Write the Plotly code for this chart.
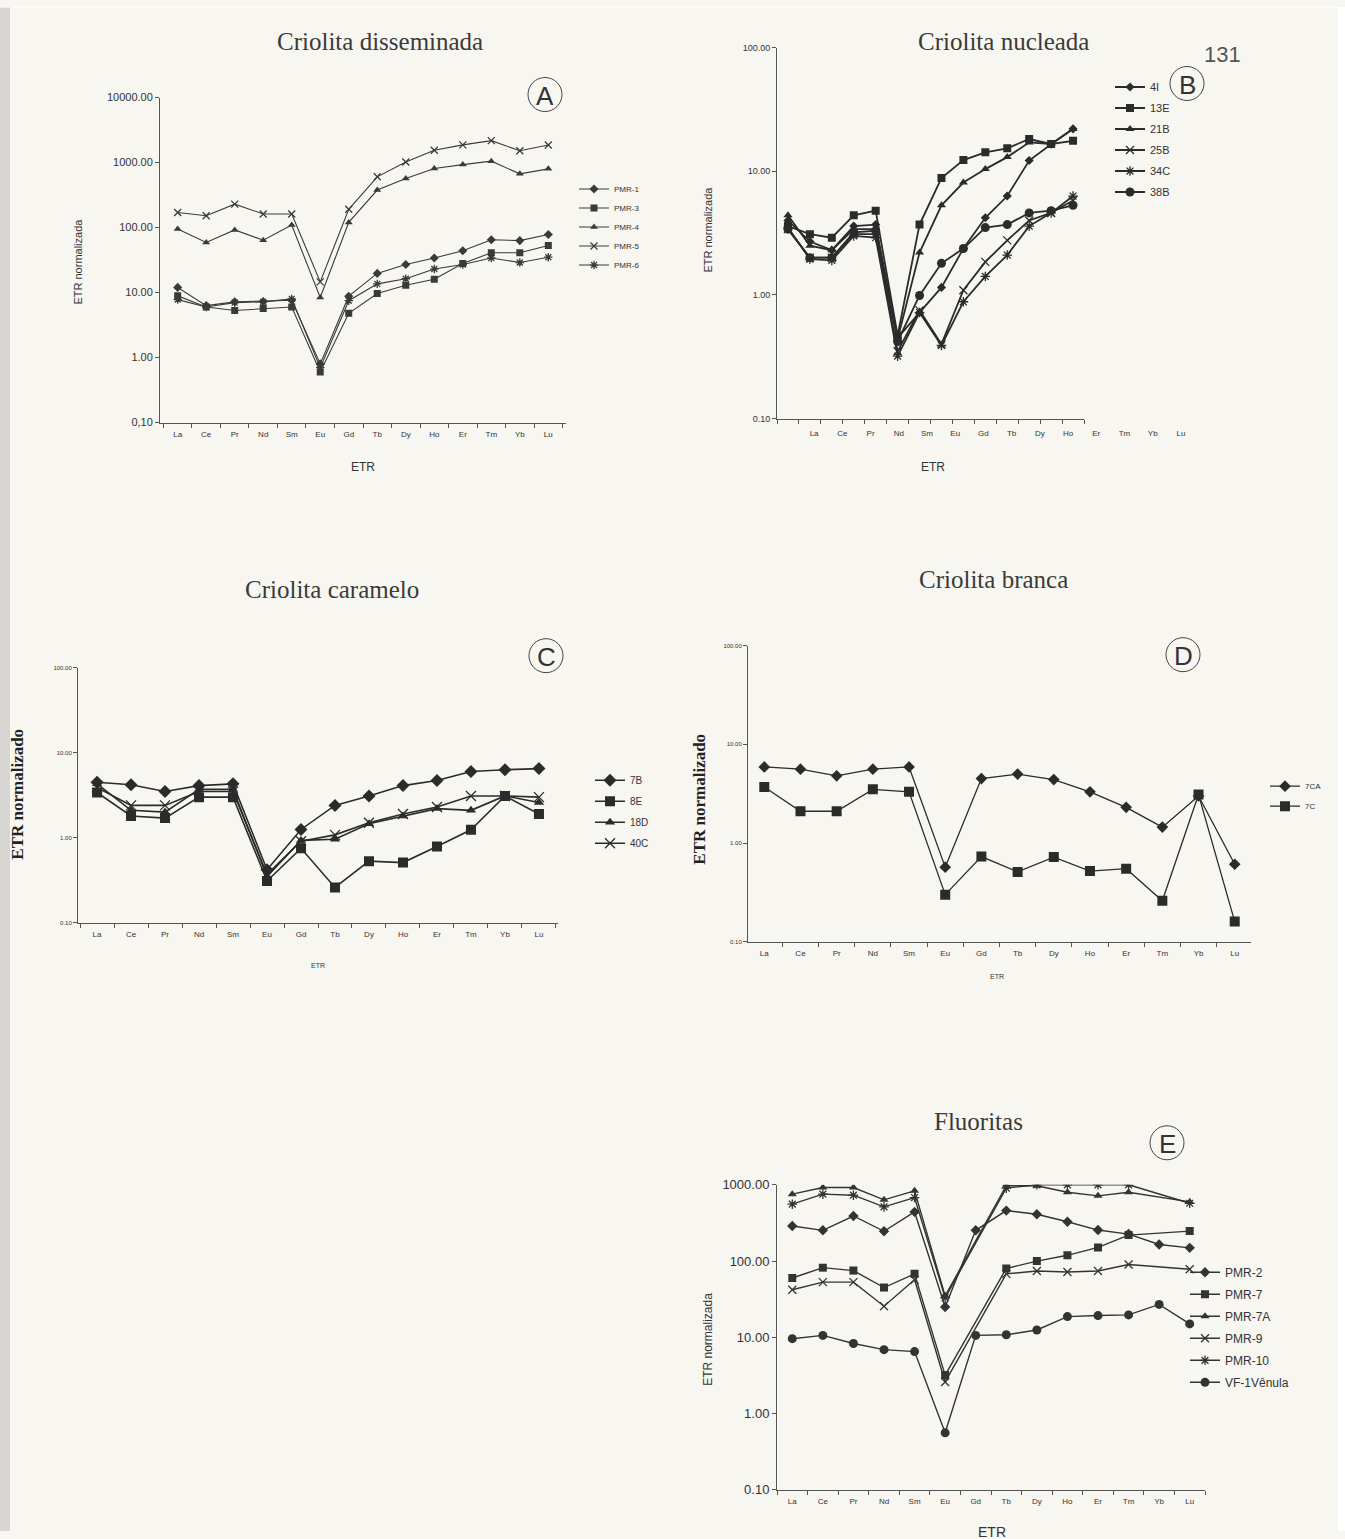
import plotly.graph_objects as go

W, H = 1345, 1539
def X(p): return p / W
def Y(p): return 1 - ((p - 7.5) / 0.99) / H

REE = ["La", "Ce", "Pr", "Nd", "Sm", "Eu", "Gd", "Tb", "Dy", "Ho", "Er", "Tm", "Yb", "Lu"]

# Panel A - Criolita disseminada
A_names = ["PMR-1", "PMR-3", "PMR-4", "PMR-5", "PMR-6"]
A_pmr1 = [12, 6.3, 7.2, 7.3, 7.6, 0.8, 8.8, 19.7, 27, 34, 44, 65, 63, 78]
A_pmr3 = [8.9, 6.0, 5.3, 5.7, 6.0, 0.6, 4.8, 9.7, 13, 16, 28, 41, 41, 53]
A_pmr4 = [95, 59, 92, 64, 109, 8.4, 120, 378, 570, 810, 930, 1050, 670, 800]
A_pmr5 = [170, 152, 229, 162, 162, 14.6, 191, 603, 1020, 1545, 1870, 2170, 1520, 1860]
A_pmr6 = [7.8, 6.0, 7.0, 7.2, 8.0, 0.7, 7.5, 13.6, 16.3, 23, 27, 34, 29, 35]
A_yvals = [0.1, 1, 10, 100, 1000, 10000]
A_yticks = ["0,10", "1.00", "10.00", "100.00", "1000.00", "10000.00"]

# Panel B - Criolita nucleada
B_names = ["4I", "13E", "21B", "25B", "34C", "38B"]
B_4i = [4.0, 2.7, 2.3, 3.6, 3.7, 0.45, 0.72, 1.15, 2.37, 4.2, 6.3, 12.2, 16.5, 22.0]
B_13e = [3.6, 3.1, 2.9, 4.4, 4.8, 0.47, 3.7, 8.8, 12.3, 14.2, 15.3, 18.2, 16.6, 17.6]
B_21b = [4.4, 2.5, 2.3, 3.4, 3.4, 0.44, 2.2, 5.3, 8.1, 10.4, 13.0, 17.1, 16.6, 21.9]
B_25b = [3.4, 2.0, 2.0, 3.1, 3.1, 0.35, 0.75, 0.40, 1.09, 1.85, 2.76, 4.0, 4.6, 5.8]
B_34c = [3.5, 1.95, 1.9, 3.0, 2.9, 0.32, 0.72, 0.39, 0.88, 1.41, 2.1, 3.6, 4.6, 6.3]
B_38b = [3.4, 2.0, 2.0, 3.2, 3.3, 0.42, 0.99, 1.8, 2.37, 3.5, 3.7, 4.6, 4.8, 5.3]
B_yvals = [0.1, 1, 10, 100]
B_yticks = ["0.10", "1.00", "10.00", "100.00"]

# Panel C - Criolita caramelo
C_names = ["7B", "8E", "18D", "40C"]
C_7b = [4.5, 4.2, 3.5, 4.1, 4.3, 0.42, 1.25, 2.4, 3.1, 4.1, 4.7, 6.0, 6.3, 6.5]
C_8e = [3.4, 1.8, 1.7, 3.0, 3.0, 0.31, 0.75, 0.26, 0.53, 0.51, 0.79, 1.24, 3.1, 1.9]
C_18d = [4.3, 2.1, 2.0, 3.7, 3.7, 0.35, 0.93, 0.96, 1.46, 1.8, 2.2, 2.1, 3.1, 2.6]
C_40c = [3.9, 2.4, 2.4, 3.5, 3.5, 0.37, 0.91, 1.08, 1.5, 1.9, 2.3, 3.1, 3.1, 3.0]
C_yticks = ["0.10", "1.00", "10.00", "100.00"]

# Panel D - Criolita branca
D_names = ["7CA", "7C"]
D_7ca = [5.9, 5.6, 4.8, 5.6, 5.9, 0.57, 4.5, 5.0, 4.4, 3.3, 2.3, 1.45, 3.0, 0.61]
D_7c = [3.7, 2.1, 2.1, 3.5, 3.3, 0.30, 0.73, 0.51, 0.72, 0.52, 0.55, 0.26, 3.1, 0.16]
D_yticks = ["0.10", "1.00", "10.00", "100.00"]

# Panel E - Fluoritas
E_names = ["PMR-2", "PMR-7", "PMR-7A", "PMR-9", "PMR-10", "VF-1Vênula"]
E_pmr2 = [288, 253, 390, 246, 441, 25, 253, 459, 411, 328, 255, 226, 165, 149]
E_pmr7 = [60, 82, 75, 45, 68, 3.2, None, 80, 100, 119, 151, 219, None, 247]
E_pmr7a = [754, 922, 922, 635, 834, 35, None, 970, 970, 800, 716, 800, None, 597]
E_pmr9 = [42, 53, 53, 25.6, 57, 2.6, None, 68, 74, 72, 74, 90, None, 78]
E_pmr10 = [557, 754, 731, 514, 681, 33, None, 904, 1000, 1000, 1000, 1000, None, 573]
E_vf1 = [9.6, 10.6, 8.3, 6.9, 6.5, 0.56, 10.6, 10.8, 12.5, 18.7, 19.3, 19.7, 27, 15]
E_yvals = [0.1, 1, 10, 100, 1000]
E_yticks = ["0.10", "1.00", "10.00", "100.00", "1000.00"]

SANS = "Liberation Sans, Arial, sans-serif"
SERIF = "Liberation Serif, Times New Roman, serif"
INK = "#2b2b2b"
AX = "#555555"
TXT = "#333333"

fig = go.Figure()

def add(xax, yax, leg, name, vals, symbol, msize, lw, open_=False, color=INK):
    mk = dict(symbol=symbol, size=msize, color=color)
    if open_:
        mk["line"] = dict(color=color, width=1.3)
    fig.add_trace(go.Scatter(
        x=REE, y=vals, name=name, mode="lines+markers",
        xaxis=xax, yaxis=yax, legend=leg, legendgroup=leg + name,
        line=dict(color=color, width=lw), marker=mk, connectgaps=True,
        hoverinfo="skip"))

# A
symA = [("diamond", 7, False), ("square", 7, False), ("triangle-up", 7, False),
        ("x-thin-open", 7, True), ("asterisk-open", 7, True)]
for n, v, s in zip(A_names, [A_pmr1, A_pmr3, A_pmr4, A_pmr5, A_pmr6], symA):
    add("x", "y", "legend", n, v, s[0], s[1], 1.1, s[2], "#3a3a3a")

# B
symB = [("diamond", 7, False), ("square", 8, False), ("triangle-up", 8, False),
        ("x-thin-open", 8, True), ("asterisk-open", 8, True), ("circle", 9, False)]
for n, v, s in zip(B_names, [B_4i, B_13e, B_21b, B_25b, B_34c, B_38b], symB):
    add("x2", "y2", "legend2", n, v, s[0], s[1], 1.8, s[2], INK)
fig.add_trace(go.Scatter(x=[], y=[], xaxis="x6", yaxis="y2", showlegend=False))

# C
symC = [("diamond", 10, False), ("square", 10, False), ("triangle-up", 9, False),
        ("x-thin-open", 10, True)]
for n, v, s in zip(C_names, [C_7b, C_8e, C_18d, C_40c], symC):
    add("x3", "y3", "legend3", n, v, s[0], s[1], 1.6, s[2], INK)

# D
symD = [("diamond", 9, False), ("square", 10, False)]
for n, v, s in zip(D_names, [D_7ca, D_7c], symD):
    add("x4", "y4", "legend4", n, v, s[0], s[1], 1.3, s[2], INK)

# E
symE = [("diamond", 8, False), ("square", 8, False), ("triangle-up", 8, False),
        ("x-thin-open", 8, True), ("asterisk-open", 8, True), ("circle", 9, False)]
for n, v, s in zip(E_names, [E_pmr2, E_pmr7, E_pmr7a, E_pmr9, E_pmr10, E_vf1], symE):
    add("x5", "y5", "legend5", n, v, s[0], s[1], 1.4, s[2], "#333333")


def xaxis(d0, d1, rng, anchor, fs, stand=4, show=True):
    return dict(domain=[X(d0), X(d1)], type="category", categoryorder="array",
                categoryarray=REE, range=rng, anchor=anchor, showline=True,
                linecolor=AX, linewidth=1, ticks="outside", ticklen=4, tickcolor=AX,
                tickson="boundaries", showgrid=False, zeroline=False,
                showticklabels=show, ticklabelstandoff=stand,
                tickfont=dict(size=fs, family=SANS, color=TXT))


def yaxis(top, bot, rng, anchor, vals, txt, fs):
    return dict(domain=[Y(bot), Y(top)], type="log", range=rng, anchor=anchor,
                showline=True, linecolor=AX, linewidth=1, ticks="outside", ticklen=4,
                tickcolor=AX, tickvals=vals, ticktext=txt, showgrid=False,
                zeroline=False, tickfont=dict(size=fs, family=SANS, color=TXT))


lay = dict(
    width=W, height=H, margin=dict(l=0, r=0, t=0, b=0),
    paper_bgcolor="#f7f6f1", plot_bgcolor="rgba(0,0,0,0)",
    font=dict(family=SANS, color=TXT),
    xaxis=xaxis(160, 566, [-0.62, 13.62], "y", 8),
    yaxis=yaxis(98, 423, [-1, 4], "x", A_yvals, A_yticks, 11),
    xaxis2=xaxis(777, 1084, [-0.5, 13.5], "y2", 8, show=False),
    yaxis2=yaxis(48, 419, [-1, 2], "x2", B_yvals, B_yticks, 9),
    xaxis6=dict(domain=[X(800), X(1195)], type="linear", range=[-0.5, 13.5],
                anchor="y2", showline=False, ticks="", showgrid=False, zeroline=False,
                tickmode="array", tickvals=list(range(14)), ticktext=REE,
                ticklabelstandoff=8,
                tickfont=dict(size=8, family=SANS, color=TXT)),
    xaxis3=xaxis(78, 558, [-0.56, 13.56], "y3", 8),
    yaxis3=yaxis(668, 923, [-1, 2], "x3", B_yvals, C_yticks, 6),
    xaxis4=xaxis(748, 1251, [-0.45, 13.45], "y4", 8),
    yaxis4=yaxis(646, 942, [-1, 2], "x4", B_yvals, D_yticks, 6),
    xaxis5=xaxis(777, 1205, [-0.5, 13.5], "y5", 8),
    yaxis5=yaxis(1185, 1490, [-1, 3], "x5", E_yvals, E_yticks, 13),
    showlegend=True,
)

def leg(x, y, fs, gap):
    return dict(x=X(x), y=Y(y), xanchor="left", yanchor="top", bgcolor="rgba(0,0,0,0)",
                font=dict(size=fs, family=SANS, color=TXT), tracegroupgap=gap,
                itemwidth=30, traceorder="grouped")

lay["legend"] = leg(574, 175, 8, 0)
lay["legend2"] = leg(1110, 73, 11, 2)
lay["legend3"] = leg(590, 766, 10, 2)
lay["legend4"] = leg(1265, 772, 8, 1)
lay["legend5"] = leg(1185, 1258, 12, 3)
fig.update_layout(**lay)

ann = []
def text(x, y, t, size, family=SANS, angle=0, color=TXT, bold=False):
    if bold:
        t = "<b>" + t + "</b>"
    ann.append(dict(x=X(x), y=Y(y), xref="paper", yref="paper", text=t, showarrow=False,
                    font=dict(size=size, family=family, color=color), textangle=angle,
                    xanchor="center", yanchor="middle"))

text(380, 42, "Criolita disseminada", 25, SERIF, color="#3a3a3a")
text(1003, 42, "Criolita nucleada", 25, SERIF, color="#3a3a3a")
text(332, 590, "Criolita caramelo", 25, SERIF, color="#3a3a3a")
text(993, 580, "Criolita branca", 25, SERIF, color="#3a3a3a")
text(978, 1122, "Fluoritas", 25, SERIF, color="#3a3a3a")
text(1222, 55, "131", 22, SANS, color="#555555")

text(363, 467, "ETR", 12)
text(933, 467, "ETR", 12)
text(318, 966, "ETR", 7)
text(997, 977, "ETR", 7)
text(992, 1532, "ETR", 14)

text(78, 262, "ETR normalizada", 11, angle=-90)
text(708, 230, "ETR normalizada", 11, angle=-90)
text(18, 795, "ETR normalizado", 17, SERIF, angle=-90, bold=True, color="#222222")
text(700, 800, "ETR normalizado", 17, SERIF, angle=-90, bold=True, color="#222222")
text(708, 1340, "ETR normalizada", 12, angle=-90)

shapes = []
for cx, cy, letter in [(545, 95, "A"), (1187, 84, "B"), (546, 656, "C"),
                       (1183, 655, "D"), (1167, 1143, "E")]:
    r = 17
    shapes.append(dict(type="circle", xref="paper", yref="paper",
                       x0=X(cx - r), x1=X(cx + r), y0=Y(cy + r), y1=Y(cy - r),
                       line=dict(color="#444444", width=1)))
    text(cx, cy + 1, letter, 26, SANS, color="#333333")

# scan edges
shapes.append(dict(type="rect", xref="paper", yref="paper", x0=0, x1=X(10), y0=0, y1=1,
                   fillcolor="#d8d6d2", line=dict(width=0), layer="below"))
shapes.append(dict(type="rect", xref="paper", yref="paper", x0=0, x1=1, y0=Y(8), y1=1,
                   fillcolor="#ffffff", line=dict(width=0), layer="below"))
shapes.append(dict(type="rect", xref="paper", yref="paper", x0=X(1338), x1=1, y0=0, y1=1,
                   fillcolor="#ffffff", line=dict(width=0), layer="below"))

fig.update_layout(annotations=ann, shapes=shapes)
fig.write_html("out.html", config={"displayModeBar": False},
               post_script="document.body.style.margin='0px';document.body.style.overflow='hidden';")
